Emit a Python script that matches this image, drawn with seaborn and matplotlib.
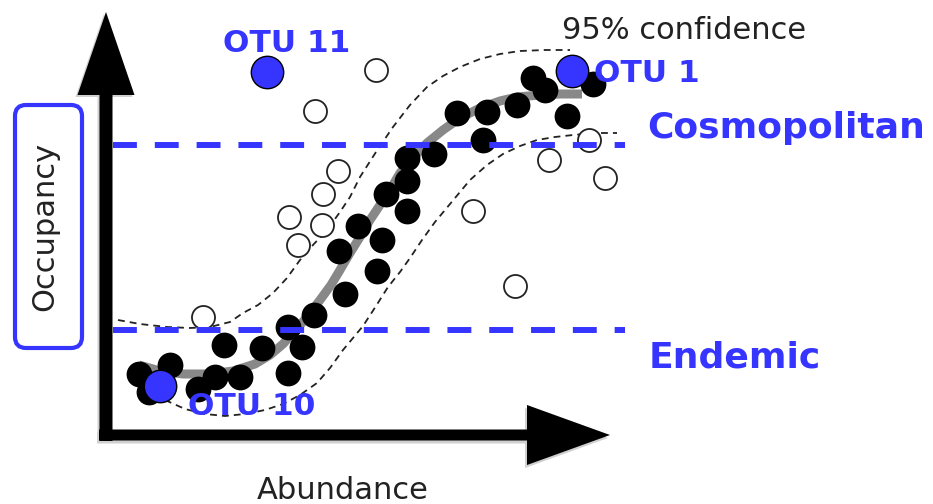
import numpy as np
import pandas as pd
import matplotlib.pyplot as plt
import seaborn as sns
from matplotlib.patches import FancyArrow, FancyBboxPatch

# schematic frame: x = abundance, y = occupancy (screen units, y grows downward)
filled_x = [533, 545, 593, 567, 517, 487, 457, 483, 434, 407, 407, 386, 407, 358,
            382, 339, 377, 345, 314, 288, 302, 262, 224, 288, 240, 215, 198, 170, 139, 149]
filled_y = [78, 90, 84, 116, 105, 112, 113, 140, 154, 158, 181, 194, 211, 226,
            240, 251, 271, 294, 315, 327, 347, 348, 345, 373, 377, 377, 389, 365, 374, 392]

open_x = [376, 315, 338, 323, 289, 322, 298, 203, 473, 515, 549, 589, 605]
open_y = [70, 111, 171, 194, 217, 225, 245, 317, 211, 286, 160, 140, 178]

fit_x = [139, 160, 183, 210, 233, 255, 270, 283, 293, 307, 320, 331, 340, 350, 360,
         370, 380, 390, 400, 413, 427, 443, 460, 480, 500, 517, 540, 560, 582]
fit_y = [365, 371, 374, 374, 371, 364, 355, 344, 333, 317, 300, 285, 270, 253, 237,
         220, 205, 190, 173, 158, 143, 130, 118, 108, 101, 97, 95, 94, 94]

upper_x = [118, 140, 167, 190, 210, 230, 243, 258, 273, 287, 300, 313, 327, 340,
           350, 360, 376, 393, 410, 427, 443, 460, 480, 500, 520, 545, 570]
upper_y = [320, 324, 327, 328, 327, 322, 313, 305, 293, 278, 260, 245, 230, 212,
           197, 177, 152, 127, 105, 87, 76, 67, 59, 54, 51, 50, 50]

lower_x = [165, 185, 205, 225, 245, 265, 283, 300, 317, 330, 343, 353, 363, 376, 388,
           400, 410, 422, 435, 450, 470, 487, 503, 520, 537, 555, 573, 595, 617]
lower_y = [400, 409, 414, 416, 414, 410, 404, 395, 383, 368, 350, 338, 326, 306, 287,
           272, 258, 240, 222, 204, 180, 165, 154, 146, 140, 137, 135, 133, 133]

otu_names = ['OTU 11', 'OTU 1', 'OTU 10']
otu_x = [267, 572, 160]
otu_y = [72, 71, 386]

threshold_names = ['Cosmopolitan', 'Endemic']
threshold_y = [145, 330]

blue = '#3535ff'
ink = '#222222'

sns.set_theme(style='white')
plt.rcParams['font.family'] = ['DejaVu Sans']

fig = plt.figure(figsize=(9.33, 5.04), dpi=100)
ax = fig.add_axes([0, 0, 1, 1])
ax.set_xlim(0, 933)
ax.set_ylim(504, 0)
ax.axis('off')

# axes arrows (with a faint drop shadow like the original)
ax.add_patch(FancyArrow(104, 443, 0, -429, width=13, head_width=57, head_length=83,
                        length_includes_head=True, color='#d0d0d0', lw=0))
ax.add_patch(FancyArrow(97, 438, 511, 0, width=11, head_width=60, head_length=83,
                        length_includes_head=True, color='#d0d0d0', lw=0))
ax.add_patch(FancyArrow(106, 441, 0, -429, width=13, head_width=57, head_length=83,
                        length_includes_head=True, color='black', lw=0))
ax.add_patch(FancyArrow(99, 435, 511, 0, width=11, head_width=60, head_length=83,
                        length_includes_head=True, color='black', lw=0))

# confidence band and fit
band = (0, (3.8, 2.8))
sns.lineplot(x=upper_x, y=upper_y, sort=False, estimator=None, color=ink,
             lw=1.3, linestyle=band, ax=ax)
sns.lineplot(x=lower_x, y=lower_y, sort=False, estimator=None, color=ink,
             lw=1.3, linestyle=band, ax=ax)
sns.lineplot(x=fit_x, y=fit_y, sort=False, estimator=None, color='#888888',
             lw=6.5, solid_capstyle='butt', ax=ax)

sns.scatterplot(x=open_x, y=open_y, s=275, color='white', edgecolor=ink,
                linewidth=1.3, ax=ax, zorder=3)
sns.scatterplot(x=filled_x, y=filled_y, s=345, color='black', linewidth=0,
                ax=ax, zorder=4)

# occupancy thresholds
for name, y in zip(threshold_names, threshold_y):
    ax.plot([113, 625], [y, y], color=blue, lw=4.3, linestyle=(0, (4, 3)), zorder=5)
ax.text(647, 138, threshold_names[0], color=blue, fontsize=26, fontweight='bold')
ax.text(649, 368, threshold_names[1], color=blue, fontsize=26, fontweight='bold')

# highlighted OTUs
sns.scatterplot(x=otu_x, y=otu_y, s=545, color=blue, edgecolor='black',
                linewidth=1, ax=ax, zorder=6)
ax.text(223, 52, otu_names[0], color=blue, fontsize=22.5, fontweight='bold', zorder=7)
ax.text(594, 82, otu_names[1], color=blue, fontsize=22.5, fontweight='bold', zorder=7)
ax.text(188, 415, otu_names[2], color=blue, fontsize=22.5, fontweight='bold', zorder=7)

ax.text(562, 39, '95% confidence', color=ink, fontsize=22)
ax.text(343, 499, 'Abundance', color=ink, fontsize=22, ha='center')
ax.text(45, 226, 'Occupancy', color=ink, fontsize=22, rotation=90,
        ha='center', va='center')
ax.add_patch(FancyBboxPatch((15, 105), 67, 243, boxstyle='round,pad=0,rounding_size=11',
                            ec=blue, fc='none', lw=3))

fig.savefig('out.png', dpi=100)
